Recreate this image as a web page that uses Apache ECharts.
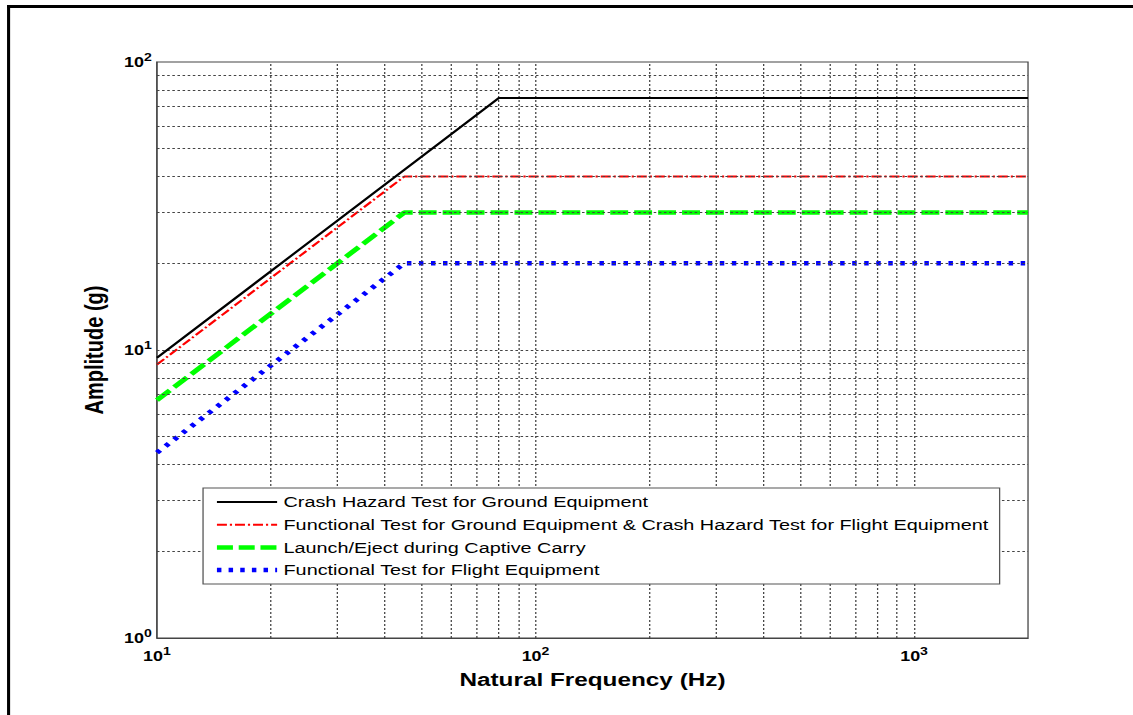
<!DOCTYPE html>
<html>
<head>
<meta charset="utf-8">
<title>Shock Response Spectrum Test Levels</title>
<script src="https://cdn.jsdelivr.net/npm/echarts@6/dist/echarts.min.js"></script>
<style>
  html, body { margin: 0; padding: 0; background: #fff; overflow: hidden; }
  #wrap { width: 1133px; height: 715px; overflow: hidden; }
  /* The figure is laid out at 885px and widened to 1133px, giving the wide lettering of the original plot */
  #chart { width: 885px; height: 715px; transform: scaleX(1.28023); transform-origin: 0 0; }
</style>
</head>
<body>
<div id="wrap"><div id="chart"></div></div>
<script>
// Test levels: [frequency Hz, amplitude g] break points
const crashHazardGround = [[10, 9.4], [80, 75], [2000, 75]];
const functionalGround = [[10, 8.9], [45, 40], [2000, 40]];
const launchEject = [[10, 6.7], [45, 30], [2000, 30]];
const functionalFlight = [[10, 4.4], [45, 20], [2000, 20]];

const seriesNames = [
  'Crash Hazard Test for Ground Equipment',
  'Functional Test for Ground Equipment & Crash Hazard Test for Flight Equipment',
  'Launch/Eject during Captive Carry',
  'Functional Test for Flight Equipment'
];

// Grid line positions (decades and their 2..9 multiples)
const xGridValues = [20, 30, 40, 50, 60, 70, 80, 90, 100, 200, 300, 400, 500, 600, 700, 800, 900, 1000];
const yGridValues = [2, 3, 4, 5, 6, 7, 8, 9, 10, 20, 30, 40, 50, 60, 70, 80, 90];

const FONT = 'Liberation Sans, Arial, sans-serif';

const gridLineStyle = { color: '#444', width: 1, type: [2, 2] };

// Line styles shared by the plotted curves and their legend samples
const styles = [
  { color: '#000000', width: 2, type: 'solid' },
  { color: '#ff0000', width: 2, type: [7.8, 2.3, 1.7, 2.3] },
  { color: '#00ff00', width: 4.5, type: [14, 4.7] },
  { color: '#0000ff', width: 4.5, type: [3.5, 5.9] }
];
const legendStyles = [
  { width: 2, type: 'solid' },
  { width: 2, type: [7.8, 2.3, 1.7, 2.3] },
  { width: 4.5, type: [12.5, 4.5] },
  { width: 4.5, type: [3.5, 5.6] }
];

function powerLabel(v) {
  const e = Math.log10(v);
  if (Math.abs(e - Math.round(e)) > 1e-6) return '';
  return '{b|10}{s|' + Math.round(e) + '}';
}
const powerRich = {
  b: { fontFamily: FONT, fontSize: 14, fontWeight: 'bold', color: '#000', lineHeight: 18 },
  s: { fontFamily: FONT, fontSize: 11, fontWeight: 'bold', color: '#000', padding: [0, 0, 9, 0] }
};

const chart = echarts.init(document.getElementById('chart'), null, { renderer: 'svg', width: 885, height: 715 });

const curves = [crashHazardGround, functionalGround, launchEject, functionalFlight];

chart.setOption({
  animation: false,
  backgroundColor: '#fff',
  graphic: [
    { type: 'rect', shape: { x: 5.5, y: 5, width: 880, height: 3 }, style: { fill: '#000' }, silent: true },
    { type: 'rect', shape: { x: 5.5, y: 5, width: 2.4, height: 710 }, style: { fill: '#000' }, silent: true }
  ],
  grid: {
    left: 122.6, right: 82, top: 62, bottom: 77,
    show: true, borderColor: '#444', borderWidth: 1, backgroundColor: '#fff'
  },
  legend: {
    left: 158.6, top: 488, z: 20,
    orient: 'vertical',
    padding: [6, 8, 6, 8.6],
    itemWidth: 47, itemHeight: 14, itemGap: 6.7,
    backgroundColor: '#fff',
    borderColor: '#555', borderWidth: 1,
    itemStyle: { opacity: 0 },
    textStyle: { fontFamily: FONT, fontSize: 15.5, color: '#000' },
    data: seriesNames.map((n, i) => ({ name: n, lineStyle: legendStyles[i] }))
  },
  xAxis: {
    type: 'log', logBase: 10, min: 10, max: 2000,
    name: 'Natural Frequency (Hz)', nameLocation: 'middle', nameGap: 32,
    nameTextStyle: { fontFamily: FONT, fontSize: 19, fontWeight: 'bold', color: '#000' },
    axisLine: { show: true, lineStyle: { color: '#444' } },
    axisTick: { show: false },
    splitLine: { show: false },
    axisLabel: { formatter: powerLabel, rich: powerRich, margin: 8, showMaxLabel: false }
  },
  yAxis: {
    type: 'log', logBase: 10, min: 1, max: 100,
    name: 'Amplitude (g)', nameLocation: 'middle', nameGap: 39, nameRotate: 90,
    nameTextStyle: { fontFamily: FONT, fontSize: 20, fontWeight: 'bold', color: '#000' },
    axisLine: { show: true, lineStyle: { color: '#444' } },
    axisTick: { show: false },
    splitLine: { show: false },
    axisLabel: { formatter: powerLabel, rich: powerRich, margin: 4 }
  },
  series: [
    {
      name: 'grid', type: 'line', data: [], silent: true, z: 1,
      markLine: {
        silent: true, symbol: 'none', animation: false,
        label: { show: false },
        lineStyle: gridLineStyle,
        data: xGridValues.map(v => ({ xAxis: v })).concat(yGridValues.map(v => ({ yAxis: v })))
      }
    }
  ].concat(curves.map((d, i) => ({
    name: seriesNames[i], type: 'line', data: d, symbol: 'none', z: i === 0 ? 5 : 4,
    color: styles[i].color, lineStyle: styles[i]
  })))
});
</script>
</body>
</html>
